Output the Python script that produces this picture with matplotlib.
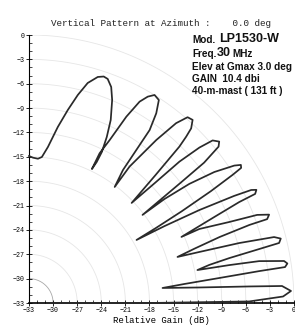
import numpy as np
import matplotlib
matplotlib.use("Agg")
import matplotlib.pyplot as plt

# vertical pattern: elevation angle (deg) and relative gain (dB)
elev_deg = [
    90.0, 88.4, 86.4, 84.9, 83.0, 80.6, 78.5, 76.65, 74.9, 72.9, 71.55, 70.45, 68.95, 67.5, 65.7, 64.65, 64.0, 64.1, 64.6,
    64.5, 63.4, 62.15, 60.95, 59.8, 58.6, 57.1, 55.85, 54.8, 54.65, 54.45, 53.25,
    53.3, 51.7, 50.4, 49.2, 47.9, 46.8, 46.3, 45.8, 45.0, 43.95,
    43.3, 42.9, 42.05, 41.2, 40.0, 39.2, 38.4, 38.1, 37.5,
    37.2, 36.3, 34.95, 33.5, 32.8, 32.2, 31.9, 31.3, 30.7, 30.3, 30.1,
    29.3, 28.35, 27.3, 26.7, 26.2, 25.5, 25.4, 24.65, 23.85, 23.2,
    23.25, 21.8, 20.9, 20.0, 19.2, 19.3, 18.9, 18.0, 17.05,
    16.5, 15.75, 14.9, 14.2, 13.35, 13.05, 12.5, 11.8, 10.95,
    10.6, 10.2, 9.25, 8.6, 7.9, 7.8, 7.4, 6.9, 6.35,
    5.15, 4.25, 3.8, 2.6, 1.45, 0.4, 0.0, 0.0,
]
gain_db = [
    -14.9, -15.1, -15.2, -14.95, -13.64, -11.03, -8.74, -6.67, -4.94, -3.88, -3.6, -3.72, -4.5, -5.94, -8.27, -10.38, -12.31, -13.7, -14.74,
    -12.57, -10.55, -7.05, -4.64, -3.6, -2.99, -3.23, -4.77, -6.94, -9.9, -12.87, -15.17,
    -12.05, -7.43, -4.26, -2.78, -2.61, -3.5, -4.67, -6.14, -10.71, -15.25,
    -11.35, -7.43, -4.42, -2.61, -2.08, -2.54, -5.18, -9.06, -15.18,
    -11.82, -8.22, -4.84, -2.34, -1.61, -1.78, -3.1, -6.5, -10.9, -14.7, -17.52,
    -13.65, -8.89, -4.24, -2.03, -1.44, -1.8, -4.02, -7.61, -10.48, -12.35,
    -9.91, -6.14, -2.59, -1.18, -1.6, -3.91, -7.9, -11.3, -13.66,
    -10.87, -5.8, -1.42, -0.66, -0.99, -3.58, -7.45, -10.06, -11.64,
    -7.62, -3.88, -0.82, -0.46, -0.81, -4.07, -9.1, -13.51, -16.27,
    -11.7, -5.51, -1.42, -0.34, -1.35, -5.58, -18.0, -30.5,
]

tick_db = list(range(-33, 1, 3))
ring_db = list(range(3, 34, 3))

title_txt = "Vertical Pattern at Azimuth :    0.0 deg"
xlabel_txt = "Relative Gain (dB)"

r = np.array(gain_db) + 33
th = np.radians(elev_deg)
x = -33 + r * np.cos(th)
y = -33 + r * np.sin(th)

fig = plt.figure(figsize=(2.95, 3.29), dpi=100)
ax = fig.add_axes([29 / 295, 26 / 329, 265 / 295, 268 / 329])

# quarter-circle rings around the origin
t = np.radians(np.linspace(0, 90, 120))
for rr in ring_db:
    col = "#a8a8a8" if rr == 3 else "#e6e6e6"
    ax.plot(-33 + rr * np.cos(t), -33 + rr * np.sin(t), color=col, lw=0.6, zorder=1)

ax.plot(x, y, color="#2a2a2a", lw=1.25, zorder=3, clip_on=False)

ax.set_xlim(-33, 0)
ax.set_ylim(-33, 0)
ax.set_xticks(tick_db)
ax.set_yticks(tick_db)
ax.set_xticks(range(-33, 1), minor=True)
ax.set_yticks(range(-33, 1), minor=True)
ax.spines["top"].set_visible(False)
ax.spines["right"].set_visible(False)
ax.spines["left"].set_linewidth(0.8)
ax.spines["bottom"].set_linewidth(1.2)
ax.tick_params(which="major", direction="inout", length=4, width=0.6, labelsize=4.8, pad=1)
ax.tick_params(which="minor", direction="in", length=2, width=0.5)
for lab in ax.get_xticklabels() + ax.get_yticklabels():
    lab.set_family("Liberation Mono")

ax.set_xlabel(xlabel_txt, family="Liberation Mono", fontsize=6.5, labelpad=1)

fig.text(161 / 295, 1 - 23 / 329, title_txt, family="Liberation Mono", fontsize=6.7,
         ha="center", va="center", color="#222222")

# antenna info block
bold = dict(family="Liberation Sans", weight="bold", color="#111111", va="center")
fig.text(192 / 295, 1 - 40 / 329, "Mod.", fontsize=7.2, **bold)
fig.text(219 / 295, 1 - 39 / 329, "LP1530-W", fontsize=9, **bold)
fig.text(192 / 295, 1 - 54 / 329, "Freq.", fontsize=7.2, **bold)
fig.text(217 / 295, 1 - 53 / 329, "30", fontsize=9, **bold)
fig.text(232 / 295, 1 - 54 / 329, "MHz", fontsize=7.2, **bold)
fig.text(192 / 295, 1 - 67 / 329, "Elev at Gmax 3.0 deg", fontsize=7.2, **bold)
fig.text(192 / 295, 1 - 79 / 329, "GAIN  10.4 dbi", fontsize=7.2, **bold)
fig.text(192 / 295, 1 - 91 / 329, "40-m-mast ( 131 ft )", fontsize=7.2, **bold)

fig.savefig("out.png", dpi=100)
